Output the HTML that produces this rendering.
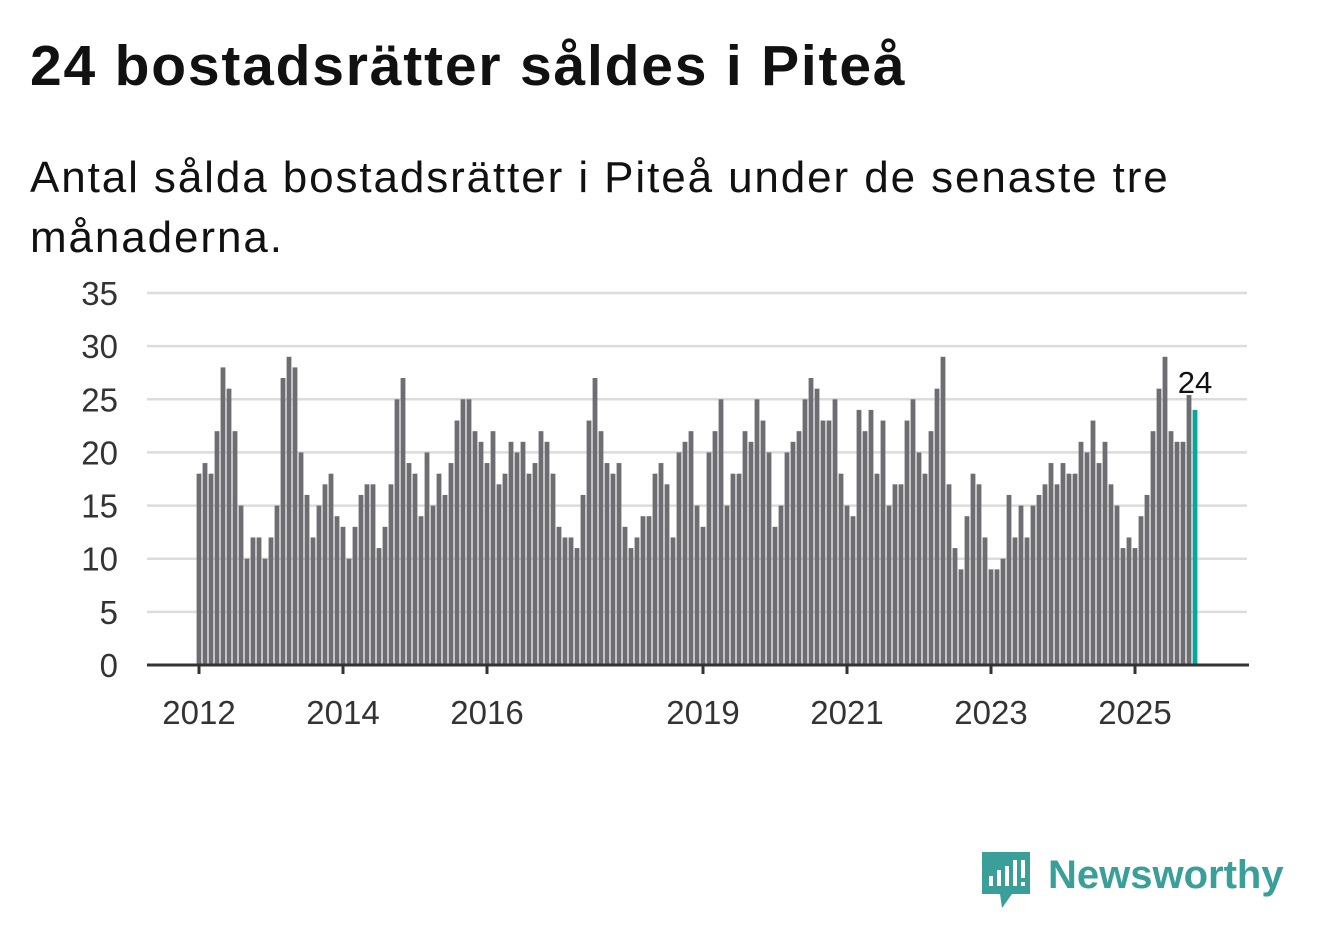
<!DOCTYPE html>
<html><head><meta charset="utf-8">
<style>
body{margin:0;background:#fff;width:1322px;height:939px;overflow:hidden;font-family:"Liberation Sans","DejaVu Sans",sans-serif;}
#title{position:absolute;left:30px;top:33px;font-size:57px;font-weight:bold;color:#111;margin:0;letter-spacing:1.8px}
#sub{position:absolute;left:30px;top:148px;width:1250px;font-size:44px;line-height:60px;color:#111;letter-spacing:1.9px}
svg{position:absolute;left:0;top:0}
</style></head><body>
<h1 id="title">24 bostadsrätter såldes i Piteå</h1>
<div id="sub">Antal sålda bostadsrätter i Piteå under de senaste tre<br>månaderna.</div>
<svg id="chart" width="1322" height="939"></svg>
<script>
const yTicks=[0,5,10,15,20,25,30,35];
const xTickYears=[2012,2014,2016,2019,2021,2023,2025];
const startYear=2012;
const values=[
18,19,18,22,28,26,22,15,10,12,12,10,
12,15,27,29,28,20,16,12,15,17,18,14,
13,10,13,16,17,17,11,13,17,25,27,19,
18,14,20,15,18,16,19,23,25,25,22,21,
19,22,17,18,21,20,21,18,19,22,21,18,
13,12,12,11,16,23,27,22,19,18,19,13,
11,12,14,14,18,19,17,12,20,21,22,15,
13,20,22,25,15,18,18,22,21,25,23,20,
13,15,20,21,22,25,27,26,23,23,25,18,
15,14,24,22,24,18,23,15,17,17,23,25,
20,18,22,26,29,17,11,9,14,18,17,12,
9,9,10,16,12,15,12,15,16,17,19,17,
19,18,18,21,20,23,19,21,17,15,11,12,
11,14,16,22,26,29,22,21,21,25.4,24];
const lastLabel="24";

const NS="http://www.w3.org/2000/svg";
const svg=document.getElementById('chart');
const y0=665,yPer=(665-293)/35;
const yScale=v=>y0-v*yPer;
const x0=199,perMonth=6;
const xScale=i=>x0+i*perMonth;
function mk(t,a){const e=document.createElementNS(NS,t);for(const k in a)e.setAttribute(k,a[k]);svg.appendChild(e);return e;}
yTicks.forEach(t=>{
  const l=mk('line',{x1:147,x2:1247,y1:yScale(t),y2:yScale(t),stroke:'#dcdcdc','stroke-width':2.5});
  
  
  const tx=mk('text',{x:118,y:yScale(t)+12,'text-anchor':'end','font-size':33,fill:'#333','font-family':'Liberation Sans, sans-serif'});
  tx.textContent=t;
  
  
});
values.forEach((v,i)=>{
  const last=i===values.length-1;
  const r=mk('rect',{x:xScale(i)-2.4,y:yScale(v),width:4.8,height:y0-yScale(v),fill:last?'#0ba69b':'#6e6d72'});
  
  
});
const li=values.length-1;
const lab=mk('text',{x:xScale(li),y:yScale(values[li])-17,'text-anchor':'middle','font-size':31,fill:'#111','font-family':'Liberation Sans, sans-serif'});
lab.textContent=lastLabel;


const ax=mk('line',{x1:147,x2:1249,y1:y0,y2:y0,stroke:'#333','stroke-width':3});


xTickYears.forEach(yr=>{
  const x=xScale((yr-startYear)*12);
  const t=mk('line',{x1:x,x2:x,y1:y0,y2:y0+9,stroke:'#333','stroke-width':3});
  
  
  const tx=mk('text',{x:x,y:724,'text-anchor':'middle','font-size':33,fill:'#333','font-family':'Liberation Sans, sans-serif'});
  tx.textContent=yr;
  
  
});
</script>
<svg width="1322" height="939">
  <path d="M982 852 h48 v42 h-18 l-10 14 l-2 -14 h-18 z" fill="#3a9f98"/>
  <rect x="989" y="876" width="4" height="10" fill="#fff"/>
  <rect x="997" y="870" width="4" height="16" fill="#fff"/>
  <rect x="1005" y="866" width="4" height="20" fill="#fff"/>
  <rect x="1013" y="860" width="4" height="26" fill="#fff"/>
  <rect x="1021" y="860" width="4" height="18" fill="#fff"/>
  <rect x="1021" y="882" width="4" height="4" fill="#fff"/>
  <text x="1048" y="888" font-size="40" font-weight="bold" fill="#3a9f98" font-family="Liberation Sans, sans-serif">Newsworthy</text>
</svg>
</body></html>
